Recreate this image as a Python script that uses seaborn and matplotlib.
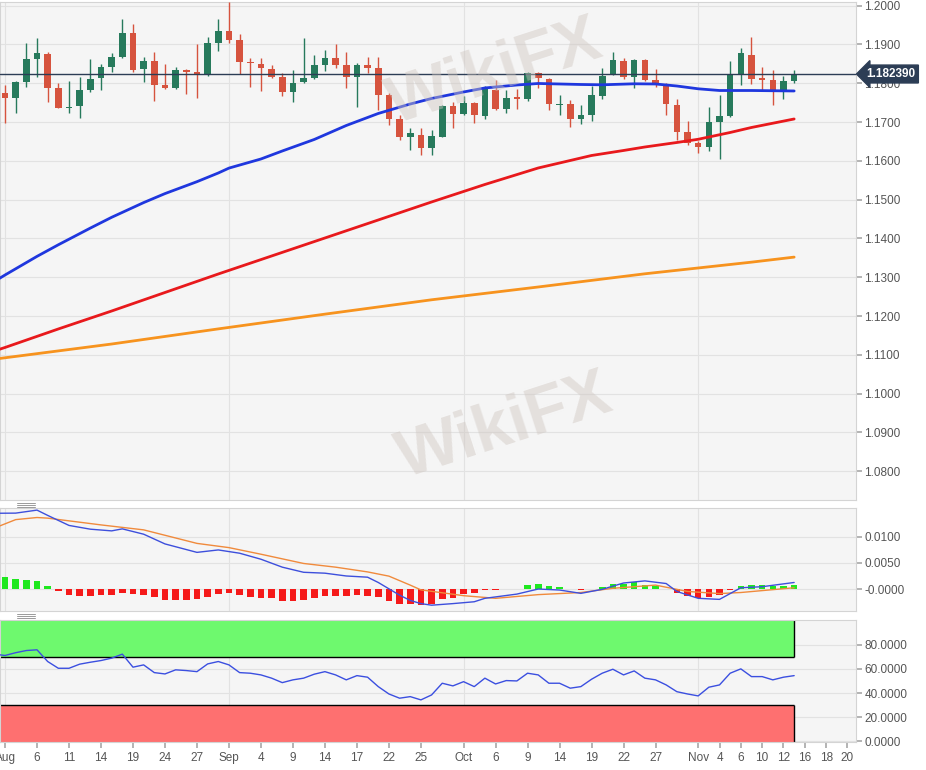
import numpy as np
import pandas as pd
import seaborn as sns
import matplotlib.pyplot as plt
import matplotlib.transforms as mtransforms
from matplotlib.lines import Line2D

sns.set_theme(style="whitegrid")
plt.rcParams['font.family'] = ['Liberation Sans', 'DejaVu Sans']

# trading days shown on the axis (Jul 31 sits just off the left edge)
days = pd.bdate_range("2020-07-31", "2020-11-20")
pos = {d: i for i, d in enumerate(days)}

# daily candles, Aug 3 .. Nov 13
opens = [1.1776, 1.1761, 1.1803, 1.1862, 1.1876, 1.1787, 1.1736, 1.1742, 1.1783, 1.1813,
         1.1841, 1.1869, 1.1930, 1.1837, 1.1858, 1.1795, 1.1787, 1.1834, 1.1830, 1.1824,
         1.1903, 1.1935, 1.1912, 1.1856, 1.1850, 1.1838, 1.1816, 1.1777, 1.1803, 1.1814,
         1.1846, 1.1866, 1.1846, 1.1816, 1.1847, 1.1839, 1.1770, 1.1707, 1.1661, 1.1667,
         1.1633, 1.1662, 1.1742, 1.1720, 1.1749, 1.1716, 1.1783, 1.1734, 1.1764, 1.1759,
         1.1826, 1.1811, 1.1743, 1.1746, 1.1708, 1.1718, 1.1768, 1.1822, 1.1858, 1.1817,
         1.1860, 1.1809, 1.1797, 1.1744, 1.1674, 1.1645, 1.1637, 1.1701, 1.1716, 1.1824,
         1.1873, 1.1813, 1.1809, 1.1783, 1.1806]
highs = [1.1796, 1.1806, 1.1905, 1.1916, 1.1881, 1.1800, 1.1807, 1.1816, 1.1863, 1.1849,
         1.1877, 1.1965, 1.1952, 1.1867, 1.1881, 1.1849, 1.1843, 1.1837, 1.1901, 1.1919,
         1.1965, 1.2009, 1.1927, 1.1864, 1.1866, 1.1846, 1.1826, 1.1833, 1.1916, 1.1873,
         1.1886, 1.1901, 1.1881, 1.1852, 1.1869, 1.1869, 1.1774, 1.1718, 1.1686, 1.1684,
         1.1680, 1.1744, 1.1753, 1.1766, 1.1751, 1.1793, 1.1809, 1.1783, 1.1785, 1.1830,
         1.1828, 1.1814, 1.1770, 1.1757, 1.1744, 1.1793, 1.1839, 1.1880, 1.1864, 1.1862,
         1.1862, 1.1837, 1.1800, 1.1759, 1.1703, 1.1650, 1.1740, 1.1770, 1.1858, 1.1890,
         1.1919, 1.1843, 1.1833, 1.1820, 1.1833]
lows = [1.1697, 1.1723, 1.1791, 1.1817, 1.1753, 1.1736, 1.1723, 1.1710, 1.1778, 1.1783,
        1.1830, 1.1864, 1.1830, 1.1803, 1.1754, 1.1785, 1.1785, 1.1772, 1.1761, 1.1820,
        1.1884, 1.1903, 1.1824, 1.1790, 1.1780, 1.1813, 1.1766, 1.1753, 1.1800, 1.1811,
        1.1832, 1.1840, 1.1787, 1.1738, 1.1827, 1.1731, 1.1693, 1.1654, 1.1628, 1.1614,
        1.1616, 1.1661, 1.1686, 1.1718, 1.1697, 1.1707, 1.1731, 1.1724, 1.1733, 1.1754,
        1.1787, 1.1731, 1.1718, 1.1687, 1.1694, 1.1704, 1.1759, 1.1821, 1.1811, 1.1787,
        1.1807, 1.1790, 1.1718, 1.1654, 1.1641, 1.1621, 1.1626, 1.1604, 1.1712, 1.1796,
        1.1797, 1.1783, 1.1744, 1.1759, 1.1800]
closes = [1.1761, 1.1803, 1.1863, 1.1877, 1.1787, 1.1737, 1.1740, 1.1783, 1.1812, 1.1841,
          1.1869, 1.1930, 1.1834, 1.1858, 1.1796, 1.1787, 1.1834, 1.1829, 1.1822, 1.1903,
          1.1935, 1.1912, 1.1855, 1.1852, 1.1839, 1.1817, 1.1777, 1.1802, 1.1814, 1.1846,
          1.1866, 1.1846, 1.1816, 1.1846, 1.1839, 1.1770, 1.1708, 1.1661, 1.1671, 1.1633,
          1.1664, 1.1742, 1.1721, 1.1749, 1.1717, 1.1787, 1.1734, 1.1763, 1.1759, 1.1827,
          1.1813, 1.1747, 1.1747, 1.1708, 1.1718, 1.1769, 1.1820, 1.1860, 1.1817, 1.1860,
          1.1809, 1.1798, 1.1746, 1.1675, 1.1645, 1.1637, 1.1701, 1.1716, 1.1824, 1.1877,
          1.1811, 1.1809, 1.1783, 1.1806, 1.18239]

# moving averages read at a set of dates
sma50_dates = ["2020-07-31", "2020-08-03", "2020-08-06", "2020-08-10", "2020-08-13", "2020-08-17",
               "2020-08-20", "2020-08-24", "2020-08-27", "2020-08-31", "2020-09-01", "2020-09-04",
               "2020-09-08", "2020-09-11", "2020-09-16", "2020-09-21", "2020-09-24", "2020-09-28",
               "2020-10-01", "2020-10-05", "2020-10-08", "2020-10-12", "2020-10-16", "2020-10-20",
               "2020-10-23", "2020-10-27", "2020-10-29", "2020-11-02", "2020-11-04", "2020-11-09",
               "2020-11-13"]
sma50 = [1.12892, 1.13059, 1.13539, 1.13838, 1.14268, 1.14546, 1.14925, 1.15157, 1.15464, 1.15688,
         1.15814, 1.16049, 1.16255, 1.16552, 1.16912, 1.17222, 1.17466, 1.17608, 1.17776, 1.17879,
         1.17956, 1.17995, 1.17969, 1.17961, 1.17987, 1.17982, 1.17930, 1.17858, 1.17814, 1.17814,
         1.17802]
sma100_dates = ["2020-07-31", "2020-08-03", "2020-08-10", "2020-08-17", "2020-08-24", "2020-08-31",
                "2020-09-07", "2020-09-14", "2020-09-21", "2020-09-28", "2020-10-05", "2020-10-12",
                "2020-10-15", "2020-10-19", "2020-10-22", "2020-10-26", "2020-10-29", "2020-11-02",
                "2020-11-05", "2020-11-09", "2020-11-13"]
sma100 = [1.11101, 1.11191, 1.11668, 1.12131, 1.12608, 1.13085, 1.13549, 1.14013, 1.14477, 1.14941,
          1.15392, 1.15817, 1.16010, 1.16139, 1.16268, 1.16358, 1.16474, 1.16557, 1.16732, 1.16861,
          1.17080]
sma200_dates = ["2020-07-31", "2020-08-17", "2020-08-31", "2020-09-14", "2020-09-28",
                "2020-10-12", "2020-10-26", "2020-11-09", "2020-11-13"]
sma200 = [1.1089, 1.1128, 1.1167, 1.1205, 1.1242, 1.1275, 1.1309, 1.1339, 1.1352]

# MACD
macd_dates = ["2020-07-31", "2020-08-04", "2020-08-06", "2020-08-07", "2020-08-11", "2020-08-13",
              "2020-08-17", "2020-08-18", "2020-08-20", "2020-08-24", "2020-08-27", "2020-08-31",
              "2020-09-02", "2020-09-04", "2020-09-08", "2020-09-10", "2020-09-14", "2020-09-16",
              "2020-09-18", "2020-09-21", "2020-09-23", "2020-09-24", "2020-09-25", "2020-09-28",
              "2020-09-30", "2020-10-02", "2020-10-05", "2020-10-08", "2020-10-12", "2020-10-14",
              "2020-10-16", "2020-10-20", "2020-10-22", "2020-10-26", "2020-10-28", "2020-10-29",
              "2020-11-02", "2020-11-04", "2020-11-05", "2020-11-06", "2020-11-10", "2020-11-13"]
macd = [0.0144, 0.01443, 0.0150, 0.0140, 0.0121, 0.01139, 0.01107, 0.01145, 0.01044, 0.0086,
        0.0070, 0.00746, 0.00684, 0.0057, 0.0042, 0.00323, 0.00306, 0.00253, 0.0023, 0.0013,
        -0.0011, -0.0021, -0.0027, -0.0030, -0.0027, -0.00235, -0.0017, -0.0009, 0.00006, -0.00013,
        -0.00076, 0.0, 0.0012, 0.0016, 0.0011, -0.0004, -0.0017, -0.0019, -0.0008, 0.0003,
        0.0005, 0.0013]
signal_dates = ["2020-07-31", "2020-08-04", "2020-08-06", "2020-08-07", "2020-08-14", "2020-08-20",
                "2020-08-27", "2020-09-01", "2020-09-04", "2020-09-10", "2020-09-15", "2020-09-18",
                "2020-09-22", "2020-09-24", "2020-09-25", "2020-10-01", "2020-10-06", "2020-10-12",
                "2020-10-16", "2020-10-21", "2020-10-27", "2020-10-30", "2020-11-04", "2020-11-06",
                "2020-11-13"]
signal = [0.0116, 0.0132, 0.0136, 0.01348, 0.0122, 0.01126, 0.0087, 0.0079, 0.00665, 0.0049,
          0.0042, 0.0033, 0.0025, 0.0008, -0.0001, -0.0012, -0.0017, -0.0010, -0.0006, 0.0002,
          0.0008, -0.0004, -0.0008, -0.0006, 0.0003]
hist = [0.0024, 0.0020, 0.0018, 0.0016, 0.0007, -0.0003, -0.0011, -0.0012, -0.0012, -0.0011,
        -0.0010, -0.0006, -0.0009, -0.0011, -0.0015, -0.0020, -0.0020, -0.0020, -0.0019, -0.0014,
        -0.0008, -0.0006, -0.0011, -0.0014, -0.0016, -0.0017, -0.0022, -0.0022, -0.0020, -0.0016,
        -0.0013, -0.0013, -0.0012, -0.0011, -0.0012, -0.0015, -0.0023, -0.0027, -0.0028, -0.0030,
        -0.0028, -0.0019, -0.0016, -0.0009, -0.0006, -0.0002, -0.00015, 0.00015, 0.00015, 0.0008,
        0.0011, 0.0007, 0.0004, 0.00015, -0.00015, 0.00015, 0.0005, 0.0011, 0.0011, 0.0013,
        0.0009, 0.0007, 0.00015, -0.0006, -0.0013, -0.0016, -0.0015, -0.0011, -0.0002, 0.0007,
        0.0008, 0.0008, 0.0007, 0.0007, 0.0008]

# RSI, Jul 31 .. Nov 13
rsi = [72.3, 71.2, 73.5, 75.3, 75.9, 66.2, 60.6, 60.6, 64.0, 65.6, 67.0,
       69.0, 72.3, 61.5, 63.4, 57.0, 55.9, 59.3, 58.7, 57.8, 64.2,
       66.2, 63.4, 57.0, 56.5, 55.1, 52.4, 48.7, 51.0, 52.4, 55.7,
       57.8, 55.1, 51.0, 54.5, 53.2, 45.4, 39.3, 35.8, 37.1, 34.4,
       38.5, 48.2, 46.0, 49.5, 45.4, 52.4, 47.6, 50.4, 50.1, 56.5,
       55.1, 48.2, 48.2, 44.1, 45.4, 51.5, 56.5, 59.8, 55.1, 58.4,
       52.4, 51.0, 46.8, 41.2, 39.3, 37.7, 44.9, 46.8, 56.5, 60.1,
       53.7, 53.7, 51.0, 53.2, 54.5]

tick_dates = ["2020-08-03", "2020-08-06", "2020-08-11", "2020-08-14", "2020-08-19", "2020-08-24",
              "2020-08-27", "2020-09-01", "2020-09-04", "2020-09-09", "2020-09-14", "2020-09-17",
              "2020-09-22", "2020-09-25", "2020-10-01", "2020-10-06", "2020-10-09", "2020-10-14",
              "2020-10-19", "2020-10-22", "2020-10-27", "2020-11-02", "2020-11-04", "2020-11-06",
              "2020-11-10", "2020-11-12", "2020-11-16", "2020-11-18", "2020-11-20"]
month_starts = ["2020-08-03", "2020-09-01", "2020-10-01", "2020-11-02"]

UP, DOWN = "#277a5c", "#d6533e"
PANEL, GRID, EDGE, TXT = "#f5f5f5", "#e2e2e2", "#d4d4d4", "#555555"


def px(dates):
    return [pos[pd.Timestamp(d)] for d in dates]


W, H = 926, 770
def box(l, t, r, b):
    return [l / W, 1 - b / H, (r - l) / W, (b - t) / H]


fig = plt.figure(figsize=(W / 100, H / 100), dpi=100)
ax = fig.add_axes(box(0, 2, 856, 500))
ax_m = fig.add_axes(box(0, 508, 856, 611))
ax_r = fig.add_axes(box(0, 620, 856, 742))

x_left, x_right = 0.53, 80.8
cpos = np.arange(1, len(closes) + 1)
last = cpos[-1]

for a in (ax, ax_m, ax_r):
    a.set_facecolor(PANEL)
    a.set_xlim(x_left, x_right)
    a.grid(axis="x", visible=False)
    a.grid(axis="y", color=GRID, lw=0.8)
    for s in a.spines.values():
        s.set_color(EDGE)
        s.set_linewidth(0.8)
    for m in px(month_starts):
        a.axvline(m, color=GRID, lw=0.8, zorder=0.5)
    a.yaxis.tick_right()
    a.tick_params(axis="y", right=True, length=4, color="#aaaaaa", labelsize=8.5,
                  labelcolor=TXT, pad=2)
    a.set_xticks(px(tick_dates))
    a.set_xlabel("")
    a.set_ylabel("")

# watermarks
for (wx, wy) in [(0.535, 0.905), (0.545, 0.445)]:
    fig.text(wx, wy, "WikiFX", fontsize=48, fontweight="bold", color="#cfc6c0", alpha=0.45,
             rotation=18, ha="center", va="center", zorder=0.1)

# ---- price panel
o, h, l, c = map(np.array, (opens, highs, lows, closes))
cols = [UP if cc >= oo else DOWN for oo, cc in zip(o, c)]
ax.vlines(cpos, l, h, colors=cols, lw=1, zorder=3)
ax.bar(cpos, np.maximum(np.abs(c - o), 0.00025), bottom=np.minimum(o, c), width=0.62,
       color=cols, zorder=4, linewidth=0)
sns.lineplot(x=px(sma200_dates), y=sma200, ax=ax, color="#f7931e", lw=2, zorder=5)
sns.lineplot(x=px(sma100_dates), y=sma100, ax=ax, color="#e8191c", lw=2, zorder=5)
sns.lineplot(x=px(sma50_dates), y=sma50, ax=ax, color="#1f37de", lw=2, zorder=5)
ax.axhline(closes[-1], color="#2c3d55", lw=1, zorder=6)
ax.set_ylim(1.0726, 1.20095)
ax.set_yticks(np.arange(1.08, 1.2001, 0.01))
ax.set_yticklabels([f"{v:.4f}" for v in np.arange(1.08, 1.2001, 0.01)])
ax.tick_params(axis="x", bottom=False, labelbottom=False)
trans = mtransforms.blended_transform_factory(ax.transAxes, ax.transData)
ax.text(1.012, closes[-1], f"{closes[-1]:.6f}", transform=trans, ha="left", va="center",
        color="white", fontsize=8.5, fontweight="bold", zorder=10, clip_on=False,
        bbox=dict(boxstyle="larrow,pad=0.25", fc="#2c3d55", ec="#2c3d55"))

# ---- MACD panel
ax_m.bar(cpos, hist, width=0.62, color=["#1fe81f" if v > 0 else "#f51a1a" for v in hist],
         linewidth=0, zorder=3)
sns.lineplot(x=px(signal_dates), y=signal, ax=ax_m, color="#f08a3c", lw=1, zorder=4)
sns.lineplot(x=px(macd_dates), y=macd, ax=ax_m, color="#3d4fdc", lw=1, zorder=4)
ax_m.set_ylim(-0.0041, 0.0154)
ax_m.set_yticks([0.0, 0.005, 0.01])
ax_m.set_yticklabels(["-0.0000", "0.0050", "0.0100"])
ax_m.tick_params(axis="x", bottom=False, labelbottom=False)

# ---- RSI panel
ax_r.set_ylim(-0.5, 100.6)
ax_r.fill_between([x_left, last], 70, 100.6, color="#6ef96e", lw=0, zorder=1)
ax_r.fill_between([x_left, last], -0.5, 30, color="#fe7070", lw=0, zorder=1)
ax_r.hlines([30, 70], x_left, last, color="black", lw=1, zorder=2)
ax_r.vlines(last, -0.5, 30, color="black", lw=1, zorder=2)
ax_r.vlines(last, 70, 100.6, color="black", lw=1, zorder=2)
sns.lineplot(x=np.arange(0, len(rsi)), y=rsi, ax=ax_r, color="#3b4fe0", lw=1, zorder=4)
ax_r.set_yticks([0, 20, 40, 60, 80])
ax_r.set_yticklabels([f"{v:.4f}" for v in [0, 20, 40, 60, 80]])
labels = [pd.Timestamp(d).strftime("%b") if d in month_starts else str(pd.Timestamp(d).day)
          for d in tick_dates]
ax_r.set_xticklabels(labels)
ax_r.tick_params(axis="x", bottom=True, length=4, color="#aaaaaa", labelsize=8.5,
                 labelcolor=TXT, pad=3)

# panel grips
for gy in (503, 614):
    for k in range(3):
        fig.add_artist(Line2D([17 / W, 35 / W], [1 - (gy + 2 * k) / H] * 2, color="#9a9a9a", lw=0.7))

fig.savefig("out.png", dpi=100, facecolor="white")
